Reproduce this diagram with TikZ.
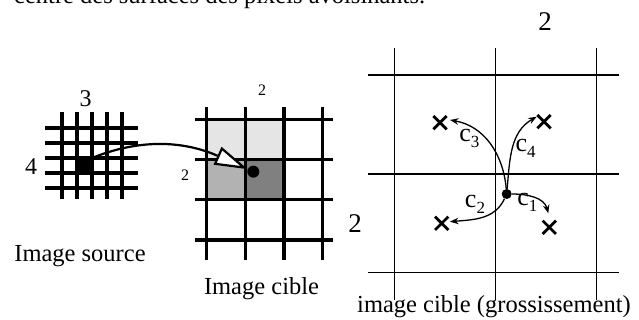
\documentclass[tikz,border=0pt]{standalone}
\usepackage{fontspec}
\setmainfont{Liberation Serif}
\usetikzlibrary{arrows.meta, shapes.misc}

\tikzset{
  grosgrille/.style={line width=3.2pt},
  finegrille/.style={line width=1.4pt},
  croix/.style={cross out, draw, line width=2.8pt, minimum size=10.5pt, inner sep=0pt},
  point/.style={circle, fill=black, inner sep=0pt, minimum size=#1},
  fleche/.style={line width=1.3pt, -{Stealth[length=8.5pt, width=6.5pt]}},
  lbl/.style={font=\fontsize{24.5}{28}\selectfont},
  chiffre/.style={font=\fontsize{#1}{#1}\selectfont, inner sep=0pt}
}
\newcommand{\cind}[1]{c\raisebox{-0.23em}{\fontsize{17}{17}\selectfont #1}}

\begin{document}
\begin{tikzpicture}[x=1pt,y=1pt]
	\useasboundingbox (0,0) rectangle (639,320);

	% ligne de texte coupee en haut
	\node[lbl, anchor=base west, inner sep=0pt] (texte) at (14,316) {centre des surfaces des pixels avoisinants.};

	% Image source
	\fill[black] (77,147) rectangle (92,162);
	\foreach \i in {0,...,4} {
		\draw[grosgrille] (62+15*\i,121) -- (62+15*\i,208);
		\draw[grosgrille] (45,192-15*\i) -- (138,192-15*\i);
	}
	\coordinate (pixsrc) at (92,162);
	\node[chiffre=24] (trois) at (85.5,221.3) {3};
	\node[chiffre=24] (quatre) at (31.2,153.8) {4};
	\node[lbl, anchor=base] (nomsrc) at (80,58) {Image source};

	% Image cible
	\fill[black!10] (206.5,160.7) rectangle (284,200.5);
	\fill[black!30] (206.5,120.2) rectangle (245.3,160.7);
	\fill[black!50] (245.3,120.2) rectangle (284,160.7);
	\foreach \x in {206.5,245.3,284,322.7}
		\draw[grosgrille] (\x,60) -- (\x,213.3);
	\foreach \y in {200.5,160.7,120.2,80}
		\draw[grosgrille] (195,\y) -- (333,\y);
	\node[point=12pt] (ptcible) at (253.3,148.3) {};
	\draw[line width=2.2pt, -{Triangle[length=33pt, width=19pt, fill=white]}] (pixsrc) to[out=22,in=156] (ptcible);
	\node[chiffre=16] (deuxa) at (262,229.5) {2};
	\node[chiffre=16] (deuxb) at (185,145) {2};
	\node[lbl, anchor=base] (nomcible) at (261.5,25) {Image cible};

	% grossissement
	\foreach \x in {394.3,495.7,596.7}
		\draw[finegrille] (\x,20) -- (\x,271.7);
	\foreach \y in {245,146,47.3}
		\draw[finegrille] (368.3,\y) -- (619.3,\y);
	\node[point=10pt] (ptgros) at (506.7,126) {};
	\node[croix] (x1) at (549.3,92.7) {};
	\node[croix] (x2) at (441.7,96.7) {};
	\node[croix] (x3) at (440,197.3) {};
	\node[croix] (x4) at (544,198.3) {};
	\coordinate (b1) at (548.3,106.7);
	\coordinate (b2) at (450,98.3);
	\coordinate (b3) at (450,200);
	\coordinate (b4) at (536.7,203.3);
	\draw[fleche] (ptgros) to[out=0,in=105] (b1);
	\draw[fleche] (ptgros) to[out=-115,in=5] (b2);
	\draw[fleche] (ptgros) to[out=95,in=-10] (b3);
	\draw[fleche] (ptgros) to[out=85,in=210] (b4);
	\node[font=\fontsize{26}{28}\selectfont, inner sep=0pt] (c1) at (527.3,117.3) {\cind{1}};
	\node[font=\fontsize{26}{28}\selectfont, inner sep=0pt] (c2) at (475,116) {\cind{2}};
	\node[font=\fontsize{26}{28}\selectfont, inner sep=0pt] (c3) at (469.3,181.7) {\cind{3}};
	\node[font=\fontsize{26}{28}\selectfont, inner sep=0pt] (c4) at (525.7,171.3) {\cind{4}};
	\node[chiffre=27] (deuxh) at (545,298) {2};
	\node[chiffre=27] (deuxg) at (355,96) {2};
	\node[lbl, anchor=base west, inner sep=0pt] (nomgros) at (357,7) {image cible (grossissement)};
\end{tikzpicture}
\end{document}
